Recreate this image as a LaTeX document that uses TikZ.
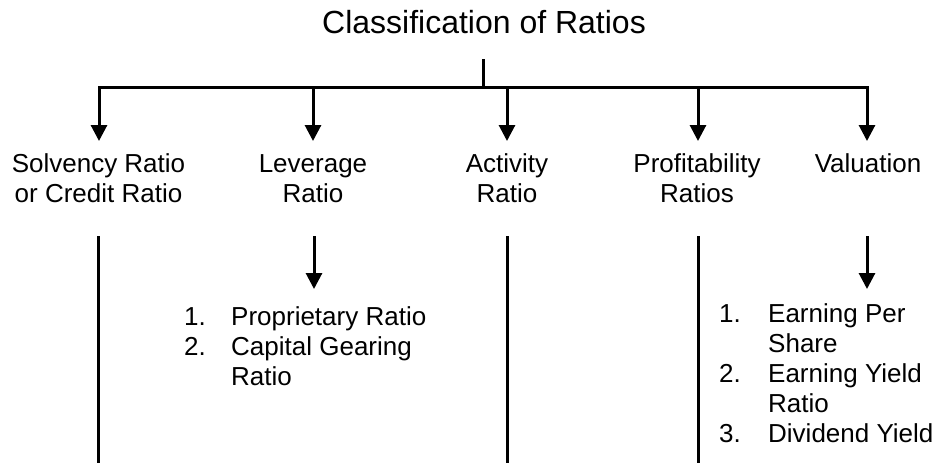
\documentclass[tikz,border=0pt]{standalone}
\usepackage{fontspec}
\setmainfont{Liberation Sans}
\usetikzlibrary{arrows.meta}
\begin{document}
\begin{tikzpicture}[x=1pt,y=-1pt,
  rule/.style={line width=3pt},
  down/.style={rule,-{Triangle[width=16pt,length=16pt]}},
  head/.style={inner sep=0pt,anchor=north,align=center,
    font=\fontsize{26}{30}\selectfont},
  itemlist/.style={inner sep=0pt,anchor=north west,
    font=\fontsize{26}{30}\selectfont}]
  \useasboundingbox (0,0) rectangle (945,463);

  % title and the trunk
  \node[inner sep=0pt,anchor=base,font=\fontsize{32}{38}\selectfont]
    (title) at (484,33) {Classification of Ratios};
  \coordinate (stemtop) at (483,59);
  \coordinate (stembot) at (483,87.5);
  \draw[rule] (stemtop) -- (stembot);

  % branch points on the bar and arrow ends
  \coordinate (b1) at (99,87.5);
  \coordinate (b2) at (313,87.5);
  \coordinate (b3) at (507,87.5);
  \coordinate (b4) at (698,87.5);
  \coordinate (b5) at (867,87.5);
  \draw[rule,line cap=rect] (b1) -- (b5);
  \coordinate (t1) at (99,141);
  \coordinate (t2) at (313,141);
  \coordinate (t3) at (507,141);
  \coordinate (t4) at (698,141);
  \coordinate (t5) at (867,141);
  \foreach \i in {1,...,5} \draw[down] (b\i) -- (t\i);

  % category headings
  \node[head] (solv) at (98.5,151) {\strut Solvency Ratio\\\strut or Credit Ratio};
  \node[head] (lev)  at (313,151) {\strut Leverage\\\strut Ratio};
  \node[head] (act)  at (507,151) {\strut Activity\\\strut Ratio};
  \node[head] (prof) at (697,151) {\strut Profitability\\\strut Ratios};
  \node[head] (val)  at (868,151) {\strut Valuation};

  % lower column rules
  \coordinate (c1) at (98,236);   \coordinate (d1) at (98,463);
  \coordinate (c3) at (507,236);  \coordinate (d3) at (507,463);
  \coordinate (c4) at (698,236);  \coordinate (d4) at (698,463);
  \draw[rule] (c1) -- (d1);
  \draw[rule] (c3) -- (d3);
  \draw[rule] (c4) -- (d4);

  % arrows into the item lists
  \coordinate (c2) at (314,236);  \coordinate (e2) at (314,289);
  \coordinate (c5) at (867,236);  \coordinate (e5) at (867,289);
  \draw[down] (c2) -- (e2);
  \draw[down] (c5) -- (e5);

  % item lists
  \node[itemlist] (levlist) at (184,304) {%
    \begin{tabular}{@{}p{47pt}@{}l@{}}
      1.& Proprietary Ratio\\
      2.& Capital Gearing\\
        & Ratio
    \end{tabular}};
  \node[itemlist] (vallist) at (719,301) {%
    \begin{tabular}{@{}p{49pt}@{}l@{}}
      1.& Earning Per\\
        & Share\\
      2.& Earning Yield\\
        & Ratio\\
      3.& Dividend Yield
    \end{tabular}};
\end{tikzpicture}
\end{document}
